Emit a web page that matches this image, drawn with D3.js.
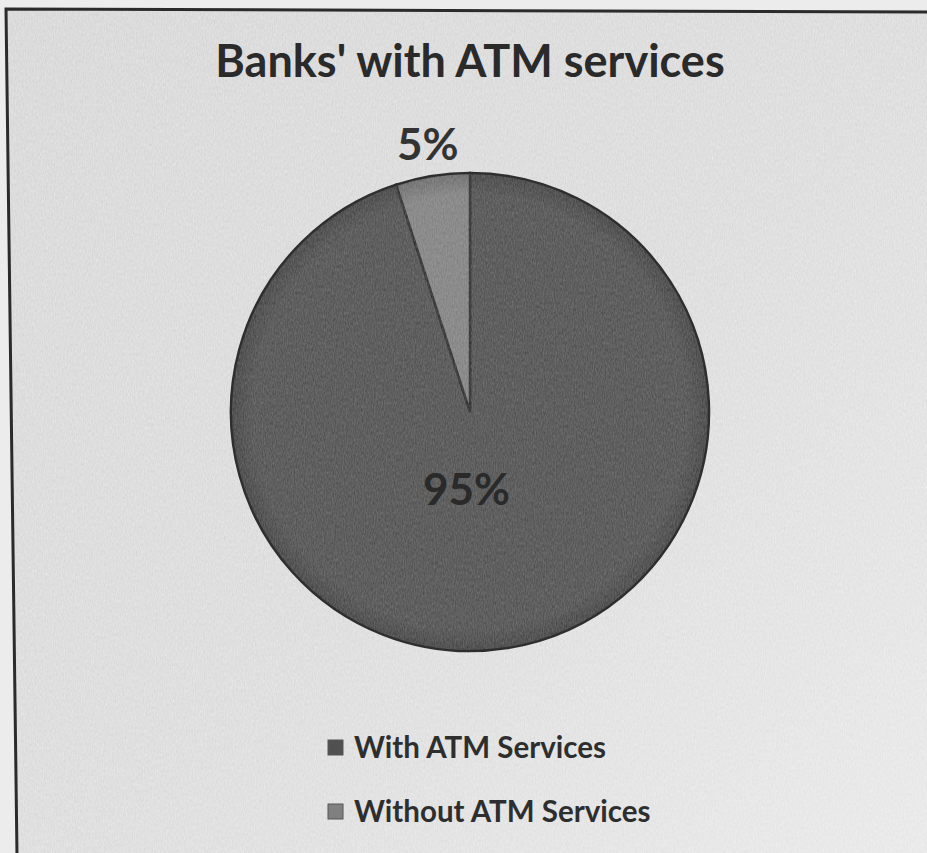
<!DOCTYPE html>
<html>
<head>
<meta charset="utf-8">
<script src="https://cdn.jsdelivr.net/npm/d3@7"></script>
<style>
  html, body { margin: 0; padding: 0; background: #ececec; }
  svg { display: block; }
  text { font-family: Lato, "Open Sans", "DejaVu Sans", sans-serif; font-weight: 700; }
</style>
</head>
<body>
<svg id="chart" width="927" height="853"></svg>
<script>
// Chart data
const categories = ["With ATM Services", "Without ATM Services"];
const shares = [95, 5];
const labels = ["95%", "5%"];
const title = "Banks' with ATM services";

const W = 927, H = 853;
const svg = d3.select("#chart");
const defs = svg.append("defs");

// Paper grain: fine horizontal streaks, clipped to the shape it is applied to
const grain = defs.append("filter").attr("id", "grain")
  .attr("x", 0).attr("y", 0).attr("width", "100%").attr("height", "100%");
grain.append("feTurbulence").attr("type", "fractalNoise")
  .attr("baseFrequency", "0.9 0.3").attr("numOctaves", 2).attr("seed", 4).attr("result", "n");
grain.append("feColorMatrix").attr("in", "n").attr("type", "matrix")
  .attr("values", "0 0 0 0 1  0 0 0 0 1  0 0 0 0 1  0 0 0 -1.2 1.0").attr("result", "m");
grain.append("feComposite").attr("in", "m").attr("in2", "SourceAlpha").attr("operator", "in");

// Slightly uneven paper tone: darker upper left, lighter lower right
const paper = defs.append("linearGradient").attr("id", "paper")
  .attr("x1", 0).attr("y1", 0).attr("x2", 1).attr("y2", 1);
paper.append("stop").attr("offset", "0%").attr("stop-color", "#d3d3d3");
paper.append("stop").attr("offset", "55%").attr("stop-color", "#d9d9d9");
paper.append("stop").attr("offset", "100%").attr("stop-color", "#e6e6e6");

// Chart area background with frame
const frame = d3.path();
frame.moveTo(6, 9); frame.lineTo(W + 2, 12); frame.lineTo(W + 2, H + 2); frame.lineTo(17, H + 2); frame.closePath();
svg.append("path").attr("d", frame.toString()).attr("fill", "url(#paper)");
svg.append("path").attr("d", frame.toString()).attr("fill", "#fff").attr("opacity", 0.45)
  .attr("filter", "url(#grain)");
svg.append("path").attr("d", frame.toString()).attr("fill", "none")
  .attr("stroke", "#2b2b2b").attr("stroke-width", 3);

// Title
svg.append("text").attr("x", 470).attr("y", 77).attr("text-anchor", "middle")
  .attr("font-size", 45).attr("fill", "#2a2a2a").text(title);

// Pie
const cx = 470, cy = 412, R = 239;
const colors = d3.scaleOrdinal().domain(categories).range(["#505050", "#808080"]);
const pie = d3.pie().sort(null).value(d => d.v);
const arcs = pie(categories.map((c, i) => ({ c, v: shares[i], label: labels[i] })));
const arc = d3.arc().innerRadius(0).outerRadius(R);

// Rim shading for the slices
categories.forEach((c, i) => {
  const g = defs.append("radialGradient").attr("id", "shade" + i)
    .attr("gradientUnits", "userSpaceOnUse").attr("cx", 0).attr("cy", 0).attr("r", R);
  const base = d3.color(colors(c));
  g.append("stop").attr("offset", "0%").attr("stop-color", base.formatHex());
  g.append("stop").attr("offset", "91%").attr("stop-color", base.formatHex());
  g.append("stop").attr("offset", "100%").attr("stop-color", base.darker(0.6).formatHex());
});

const pg = svg.append("g").attr("transform", `translate(${cx},${cy})`);
pg.selectAll("path.slice").data(arcs).join("path")
  .attr("class", "slice")
  .attr("d", arc)
  .attr("fill", (d, i) => `url(#shade${i})`)
  .attr("stroke", "#2e2e2e").attr("stroke-width", 2.5);

// Grain over the pie
pg.append("circle").attr("r", R - 1).attr("fill", "#fff").attr("opacity", 0.22)
  .attr("filter", "url(#grain)");

// Data labels
const outerLabel = d3.arc().innerRadius(R + 31).outerRadius(R + 31);
const innerLabel = d3.arc().innerRadius(80).outerRadius(80);
pg.selectAll("text.lbl").data(arcs).join("text")
  .attr("class", "lbl")
  .attr("transform", d => {
    const small = d.data.v < 10;
    const p = (small ? outerLabel : innerLabel).centroid(d);
    return `translate(${p[0] - (small ? 0 : 16)},${p[1] + (small ? 15 : 14)})`;
  })
  .attr("text-anchor", "middle")
  .attr("font-size", 44)
  .attr("fill", d => d.data.v < 10 ? "#333" : "#2a2a2a")
  .text(d => d.data.label);

// Legend
const legend = svg.append("g");
const ly = d3.scalePoint().domain(categories).range([748, 812]);
legend.selectAll("rect").data(categories).join("rect")
  .attr("x", 328).attr("y", d => ly(d) - 8).attr("width", 15).attr("height", 15)
  .attr("fill", d => colors(d)).attr("stroke", "#555").attr("stroke-width", 1);
legend.selectAll("text").data(categories).join("text")
  .attr("x", 354).attr("y", d => ly(d) + 10)
  .attr("font-size", 29.5).attr("fill", "#2e2e2e").text(d => d);
</script>
</body>
</html>
